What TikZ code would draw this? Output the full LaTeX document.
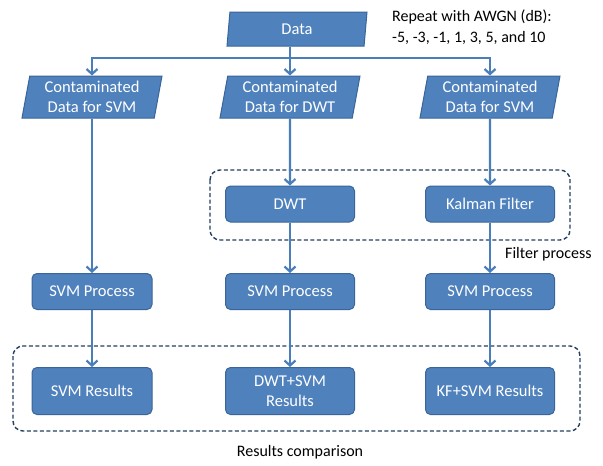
\documentclass[tikz,border=0pt]{standalone}
\usepackage{fontspec}
\setmainfont{Carlito}
\usetikzlibrary{shapes.geometric,arrows.meta}
\definecolor{boxfill}{HTML}{4F81BD}
\definecolor{boxline}{HTML}{3A659A}
\definecolor{linkcol}{HTML}{4A7EBB}
\definecolor{groupcol}{HTML}{243F60}
\tikzset{
  procbox/.style={draw=boxline, line width=1pt, fill=boxfill, rounded corners=5pt,
    minimum width=129pt, minimum height=36pt, text=white, align=center,
    font=\fontsize{16.5}{20}\selectfont, inner sep=2pt},
  databox/.style={trapezium, trapezium left angle=77, trapezium right angle=103,
    trapezium stretches body, draw=boxline, line width=1pt, fill=boxfill,
    minimum width=140pt, minimum height=42pt, text=white, align=center,
    font=\fontsize{16.5}{20}\selectfont, inner sep=1pt},
  link/.style={draw=linkcol, line width=2.2pt, -{Straight Barb[length=5pt,width=11pt,line width=2.2pt]}},
  group/.style={draw=groupcol, line width=1.4pt, dash pattern=on 4pt off 2.5pt, rounded corners=10pt},
  note/.style={font=\fontsize{16}{21}\selectfont, text=black, align=left, inner sep=0pt}
}
\begin{document}
\begin{tikzpicture}[x=1pt,y=-1pt]
\useasboundingbox[fill=white] (0,0) rectangle (603,466);

% group frames
\draw[group] (210,170) rectangle (570,240);
\draw[group] (13,346) rectangle (580,431);

% inputs
\node[databox, minimum height=34pt] (data) at (297,29) {Data};
\node[databox] (cl) at (92,97) {Contaminated\\Data for SVM};
\node[databox] (cm) at (290,97) {Contaminated\\Data for DWT};
\node[databox] (cr) at (490,97) {Contaminated\\Data for SVM};

% filter stage
\node[procbox] (dwt) at (290,204) {DWT};
\node[procbox] (kal) at (490,204) {Kalman Filter};

% classification stage
\node[procbox, minimum width=120pt] (svml) at (92,291.5) {SVM Process};
\node[procbox] (svmm) at (290,291.5) {SVM Process};
\node[procbox] (svmr) at (490,291.5) {SVM Process};

% results
\node[procbox, minimum width=120pt, minimum height=47pt] (resl) at (92,391) {SVM Results};
\node[procbox, minimum height=47pt] (resm) at (290,391) {DWT+SVM\\Results};
\node[procbox, minimum height=47pt] (resr) at (490,391) {KF+SVM Results};

% notes
\node[note, anchor=west] (rep) at (392,27) {Repeat with AWGN (dB):\\-5, -3, -1, 1, 3, 5, and 10};
\node[note, anchor=west] (fp) at (505,254) {Filter process};
\node[note] (rc) at (300,452) {Results comparison};

% split from the data source
\coordinate (split) at (cm.north |- 0,58);
\draw[draw=linkcol, line width=2.2pt] (cm.north |- data.south) -- (split);
\draw[link] (split) -| (cl.north);
\draw[link] (split) -- (cm.north);
\draw[link] (split) -| (cr.north);

% processing chains
\draw[link] (cl) -- (svml);
\draw[link] (cm) -- (dwt);
\draw[link] (cr) -- (kal);
\draw[link] (dwt) -- (svmm);
\draw[link] (kal) -- (svmr);
\draw[link] (svml) -- (resl);
\draw[link] (svmm) -- (resm);
\draw[link] (svmr) -- (resr);
\end{tikzpicture}
\end{document}
